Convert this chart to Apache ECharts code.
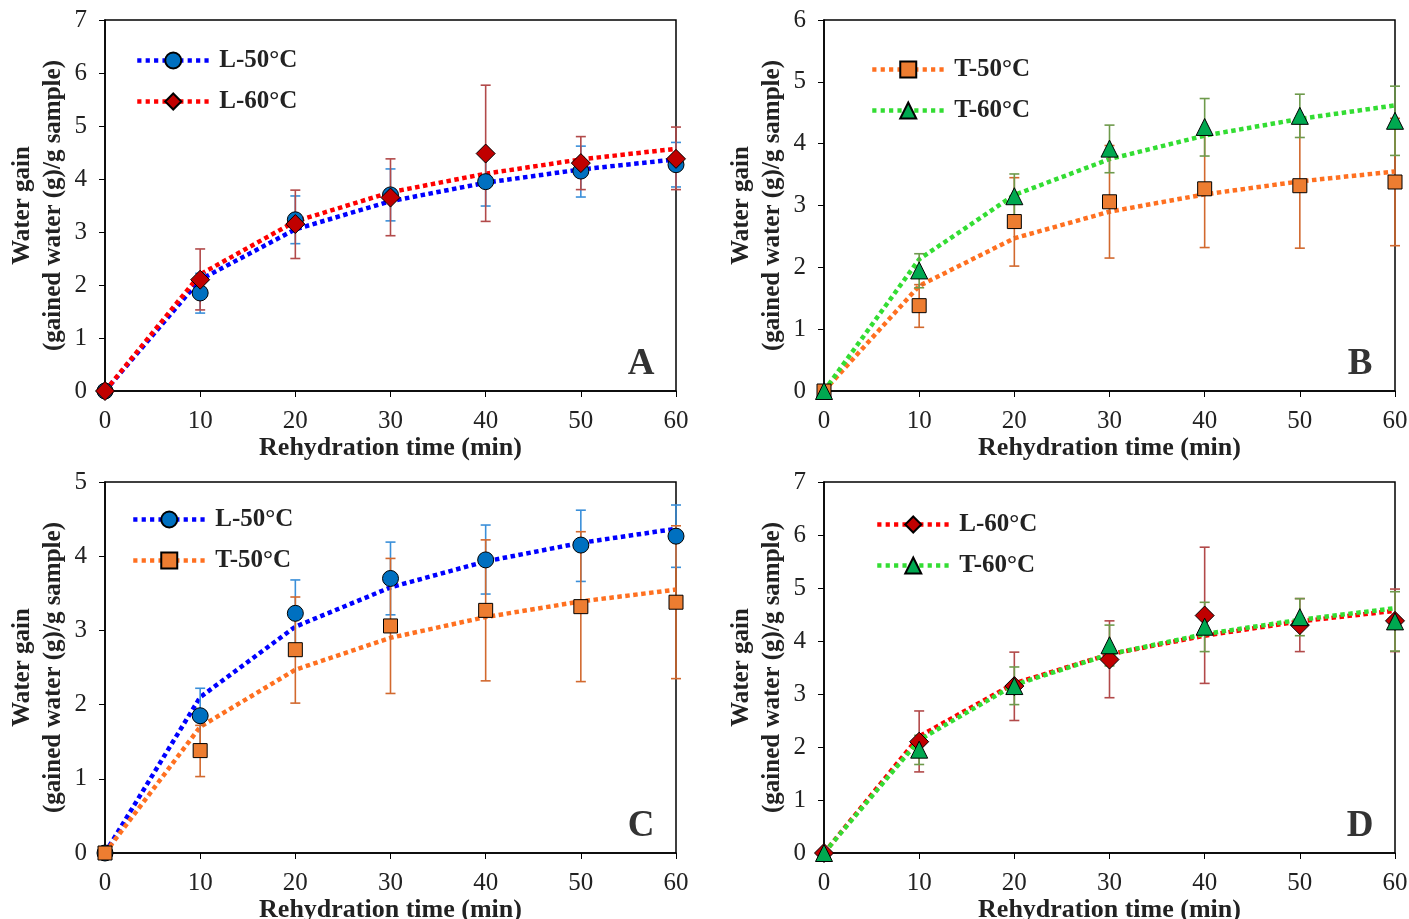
<!DOCTYPE html>
<html><head><meta charset="utf-8">
<script src="https://cdn.jsdelivr.net/npm/echarts@6/dist/echarts.min.js"></script>
<style>html,body{margin:0;padding:0;background:#fff}#c{width:1409px;height:919px}</style>
</head><body><div id="c"></div><script>
// ---- data ----
const times = [0, 10, 20, 30, 40, 50, 60];
const xTicks = [0, 10, 20, 30, 40, 50, 60];

const L50_obs = [0, 1.85, 3.23, 3.70, 3.95, 4.15, 4.27];
const L50_hi  = [null, 2.22, 3.68, 4.19, 4.42, 4.62, 4.69];
const L50_lo  = [null, 1.47, 2.78, 3.21, 3.49, 3.66, 3.85];
const L50_fit = [0, 2.10, 3.05, 3.58, 3.93, 4.18, 4.37];

const L60_obs = [0, 2.10, 3.15, 3.65, 4.48, 4.30, 4.38];
const L60_hi  = [null, 2.68, 3.79, 4.38, 5.77, 4.80, 4.98];
const L60_lo  = [null, 1.53, 2.50, 2.93, 3.20, 3.80, 3.80];
const L60_fit = [0, 2.20, 3.20, 3.75, 4.10, 4.37, 4.57];

const T50_obs = [0, 1.38, 2.74, 3.06, 3.27, 3.32, 3.38];
const T50_hi  = [null, 1.72, 3.45, 3.97, 4.22, 4.33, 4.41];
const T50_lo  = [null, 1.03, 2.02, 2.15, 2.32, 2.31, 2.35];
const T50_fit = [0, 1.70, 2.47, 2.90, 3.18, 3.39, 3.55];

const T60_obs = [0, 1.95, 3.15, 3.92, 4.27, 4.45, 4.37];
const T60_hi  = [null, 2.22, 3.51, 4.30, 4.73, 4.80, 4.93];
const T60_lo  = [null, 1.67, 2.80, 3.53, 3.80, 4.10, 3.81];
const T60_fit = [0, 2.13, 3.17, 3.75, 4.13, 4.40, 4.62];

const panelLetters = ['A', 'B', 'C', 'D'];
const panelYMax = [7, 6, 5, 7];
const panelSets = [['L50', 'L60'], ['T50', 'T60'], ['L50', 'T50'], ['L60', 'T60']];

// ---- styles ----
const sets = {
  L50: {name: 'L-50°C', obs: L50_obs, hi: L50_hi, lo: L50_lo, fit: L50_fit,
        symbol: 'circle', size: 16, fill: '#0070C0', line: '#0000FF', err: '#3A8FD9'},
  L60: {name: 'L-60°C', obs: L60_obs, hi: L60_hi, lo: L60_lo, fit: L60_fit,
        symbol: 'diamond', size: 19, fill: '#C00000', line: '#FF0000', err: '#B24A4A'},
  T50: {name: 'T-50°C', obs: T50_obs, hi: T50_hi, lo: T50_lo, fit: T50_fit,
        symbol: 'rect', size: 14, fill: '#ED7D31', line: '#FF7020', err: '#D2692E'},
  T60: {name: 'T-60°C', obs: T60_obs, hi: T60_hi, lo: T60_lo, fit: T60_fit,
        symbol: 'triangle', size: 17, fill: '#00A850', line: '#33DD33', err: '#6E9A4C'}
};

const font = 'Liberation Serif';
const grids = [
  {left: 105, top: 20, width: 571, height: 371},
  {left: 824, top: 20, width: 571, height: 371},
  {left: 105, top: 482, width: 571, height: 371},
  {left: 824, top: 482, width: 571, height: 371}
];
const legendPos = [
  {left: 135, top: 48}, {left: 870, top: 57}, {left: 131, top: 507}, {left: 875, top: 512}
];

const option = {
  animation: false,
  backgroundColor: '#fff',
  grid: grids.map(g => Object.assign({show: true, borderColor: '#000', borderWidth: 1.5,
                                      containLabel: false, outerBoundsMode: 'none'}, g)),
  xAxis: [], yAxis: [], series: [], legend: [], graphic: []
};

panelSets.forEach((pair, i) => {
  option.xAxis.push({
    type: 'value', gridIndex: i, min: 0, max: 60, interval: 10,
    axisLine: {show: true, lineStyle: {color: '#000', width: 1.5}},
    axisTick: {show: true, length: 6, lineStyle: {color: '#000'}},
    splitLine: {show: false},
    axisLabel: {fontFamily: font, fontSize: 25, color: '#222', margin: 18,
                formatter: v => xTicks.includes(v) ? String(v) : ''},
    name: 'Rehydration time (min)', nameLocation: 'middle', nameGap: 43,
    nameTextStyle: {fontFamily: font, fontSize: 26, fontWeight: 'bold', color: '#222'}
  });
  option.yAxis.push({
    type: 'value', gridIndex: i, min: 0, max: panelYMax[i], interval: 1,
    axisLine: {show: true, lineStyle: {color: '#000', width: 1.5}},
    axisTick: {show: true, length: 6, lineStyle: {color: '#000'}},
    splitLine: {show: false},
    axisLabel: {fontFamily: font, fontSize: 25, color: '#222', margin: 18},
    name: 'Water gain\n(gained water (g)/g sample)', nameLocation: 'middle', nameGap: 36,
    nameTextStyle: {fontFamily: font, fontSize: 25, fontWeight: 'bold', color: '#222', lineHeight: 31}
  });
  // fitted lines (first so legend takes their icon)
  pair.forEach(k => {
    const s = sets[k];
    option.series.push({
      type: 'line', name: s.name, xAxisIndex: i, yAxisIndex: i,
      data: times.map((t, j) => [t, s.fit[j]]),
      showSymbol: false, symbol: s.symbol, symbolSize: s.size,
      itemStyle: {color: s.fill, borderColor: '#000', borderWidth: 1},
      lineStyle: {color: s.line, width: 4.5, type: [4.5, 3.5], cap: 'butt'},
      z: 2, silent: true
    });
  });
  // error bars
  pair.forEach(k => {
    const s = sets[k];
    const errData = [];
    times.forEach((t, j) => { if (s.hi[j] != null) errData.push([t, s.lo[j], s.hi[j]]); });
    option.series.push({
      type: 'custom', name: s.name + ' err', xAxisIndex: i, yAxisIndex: i, z: 3,
      data: errData,
      renderItem: (params, api) => {
        const x = api.value(0);
        const p1 = api.coord([x, api.value(1)]);
        const p2 = api.coord([x, api.value(2)]);
        const hw = 5;
        const st = {stroke: s.err, lineWidth: 1.6};
        return {type: 'group', children: [
          {type: 'line', shape: {x1: p1[0], y1: p1[1], x2: p2[0], y2: p2[1]}, style: st},
          {type: 'line', shape: {x1: p1[0] - hw, y1: p1[1], x2: p1[0] + hw, y2: p1[1]}, style: st},
          {type: 'line', shape: {x1: p2[0] - hw, y1: p2[1], x2: p2[0] + hw, y2: p2[1]}, style: st}
        ]};
      },
      encode: {x: 0, y: [1, 2]}
    });
  });
  // observed markers
  pair.forEach(k => {
    const s = sets[k];
    option.series.push({
      type: 'scatter', name: s.name + ' obs', xAxisIndex: i, yAxisIndex: i, clip: false,
      data: times.map((t, j) => [t, s.obs[j]]),
      symbol: s.symbol, symbolSize: s.size,
      itemStyle: {color: s.fill, borderColor: '#000', borderWidth: 1, opacity: 1},
      z: 4
    });
  });
  option.legend.push(Object.assign({
    orient: 'vertical', data: pair.map(k => sets[k].name),
    itemWidth: 72, itemHeight: 20, itemGap: 16, padding: 0,
    lineStyle: {width: 4.5, type: [4.2, 4.2], cap: 'butt'},
    textStyle: {fontFamily: font, fontSize: 25, fontWeight: 'bold', color: '#222',
                padding: [0, 0, 0, 5]},
    selectedMode: false
  }, legendPos[i]));
  const g = grids[i];
  option.graphic.push({
    type: 'text', x: g.left + g.width - 35, y: g.top + g.height - 27,
    style: {text: panelLetters[i], fontFamily: font, fontSize: 37, fontWeight: 'bold', fill: '#333',
            align: 'center', verticalAlign: 'middle'}
  });
});

const chart = echarts.init(document.getElementById('c'), null, {renderer: 'canvas'});
chart.setOption(option);
</script></body></html>
